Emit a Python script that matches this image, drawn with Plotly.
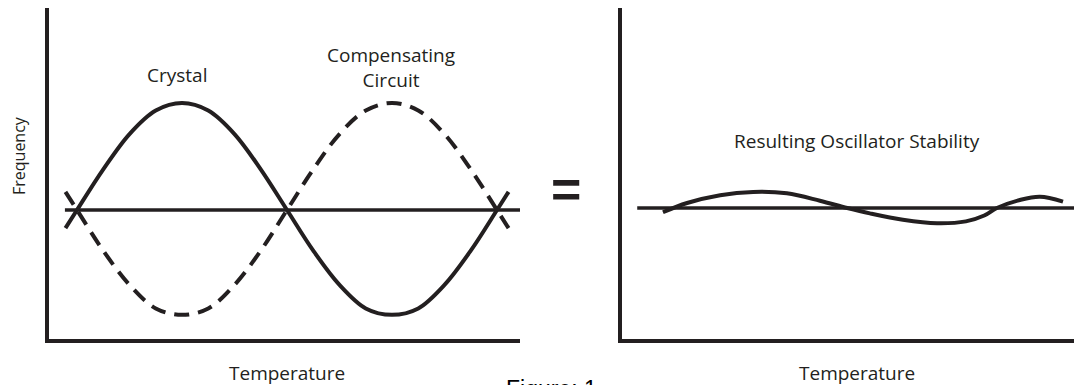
import plotly.graph_objects as go

W, H = 1082, 385
OFF = 8  # page body margin around the plot div
INK = '#231f20'
FONT = 'Open Sans'

# left panel: temperature positions and frequency deviations
temp = [0.78, 1.0, 1.5, 2.0, 2.5, 3.0, 3.5, 4.0, 4.5, 5.0, 5.5, 6.0, 6.5, 7.0, 7.5, 8.0, 8.5, 9.0, 9.22]
crystal = [-0.17, 0, 0.38, 0.71, 0.93, 1.0, 0.93, 0.71, 0.38, 0, -0.38, -0.70, -0.92, -0.98, -0.92, -0.70, -0.38, 0, 0.17]
compensating = [0.17, 0, -0.38, -0.70, -0.92, -0.98, -0.92, -0.70, -0.38, 0, 0.38, 0.71, 0.93, 1.0, 0.93, 0.71, 0.38, 0, -0.17]
nominal_left = [0.77, 9.44]

# right panel: resulting stability
temp_r = [0.78, 1.24, 1.87, 2.50, 3.14, 3.77, 4.29, 4.72, 5.35, 6.00, 6.55, 6.90, 7.14, 7.58, 7.96, 8.40]
result = [-0.04, 0.047, 0.12, 0.15, 0.137, 0.068, 0, -0.05, -0.11, -0.143, -0.125, -0.07, 0, 0.075, 0.105, 0.06]
nominal_right = [0.29, 8.77]


def px(x):
    return min(max((x - OFF) / W, 0), 1)


def py(y):
    return min(max((H - (y - OFF)) / H, 0), 1)


fig = go.Figure()

fig.add_trace(go.Scatter(x=nominal_left, y=[0, 0], mode='lines',
                         line=dict(color=INK, width=3.5), xaxis='x', yaxis='y'))
fig.add_trace(go.Scatter(x=temp, y=crystal, mode='lines',
                         line=dict(color=INK, width=4, shape='spline'), xaxis='x', yaxis='y'))
fig.add_trace(go.Scatter(x=temp, y=compensating, mode='lines',
                         line=dict(color=INK, width=4, shape='spline', dash='15px,9px'),
                         xaxis='x', yaxis='y'))

fig.add_trace(go.Scatter(x=nominal_right, y=[0, 0], mode='lines',
                         line=dict(color=INK, width=3.5), xaxis='x2', yaxis='y2'))
fig.add_trace(go.Scatter(x=temp_r, y=result, mode='lines',
                         line=dict(color=INK, width=4, shape='spline'), xaxis='x2', yaxis='y2'))

axis_style = dict(showline=True, linewidth=4, linecolor=INK, showgrid=False,
                  zeroline=False, showticklabels=False, ticks='', fixedrange=True)

fig.update_layout(
    width=W, height=H,
    margin=dict(l=0, r=0, t=0, b=0),
    paper_bgcolor='white', plot_bgcolor='white',
    showlegend=False,
    font=dict(family=FONT, color=INK, size=19),
    xaxis=dict(domain=[px(49), px(520)], range=[0.4667, 9.438], **axis_style),
    yaxis=dict(domain=[py(339), py(8)], range=[-1.2056, 1.8879], **axis_style),
    xaxis2=dict(domain=[px(622), px(1090)], range=[0, 8.914], anchor='y2', **axis_style),
    yaxis2=dict(domain=[py(339), py(8)], range=[-1.2243, 1.8692], anchor='x2', **axis_style),
)

labels = [
    ('Crystal', 177, 75, 0, 19),
    ('Compensating<br>Circuit', 391, 67, 0, 19),
    ('Frequency', 19, 156, -90, 16),
    ('Temperature', 287, 373, 0, 19),
    ('Temperature', 857, 373, 0, 19),
    ('Resulting Oscillator Stability', 857, 141, 0, 19),
]
for text, x, y, ang, size in labels:
    fig.add_annotation(text=text, x=px(x), y=py(y), xref='paper', yref='paper',
                       showarrow=False, textangle=ang, font=dict(size=size),
                       xanchor='center', yanchor='middle')

fig.add_annotation(text='<b>=</b>', x=px(565.5), y=py(189), xref='paper', yref='paper',
                   showarrow=False, font=dict(size=52, family='Liberation Sans'),
                   xanchor='center', yanchor='middle')
fig.add_annotation(text='Figure: 1', x=px(504), y=py(374), xref='paper', yref='paper',
                   showarrow=False, font=dict(size=23, family='Liberation Sans', color='black'),
                   xanchor='left', yanchor='top')

fig.write_html('out.html')
